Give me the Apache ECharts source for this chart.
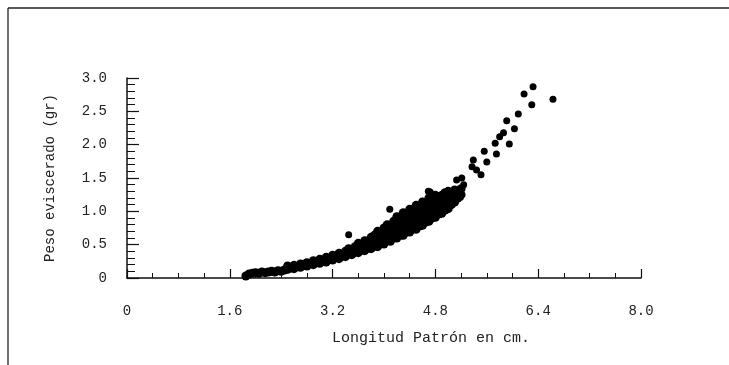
<!DOCTYPE html>
<html>
<head>
<meta charset="utf-8">
<script src="https://cdn.jsdelivr.net/npm/echarts@6/dist/echarts.min.js"></script>
<style>
html,body{margin:0;padding:0;background:#fff;}
#chart{width:729px;height:365px;}
</style>
</head>
<body>
<div id="chart"></div>
<script>
// Tick labels
var xTickLabels = ['0', '1.6', '3.2', '4.8', '6.4', '8.0'];
var yTickLabels = ['0', '0.5', '1.0', '1.5', '2.0', '2.5', '3.0'];
var xTitle = 'Longitud Patrón en cm.';
var yTitle = 'Peso eviscerado (gr)';

// Dense cloud of observations [longitud, peso]
var denseData = [
  [1.85,0.03],[1.90,0.06],[1.95,0.07],[2.00,0.08],[2.05,0.07],[2.10,0.09],[2.15,0.08],[2.20,0.09],[2.25,0.10],[2.30,0.09],[2.35,0.11],[2.40,0.10],[2.45,0.12],
  [2.50,0.13],[2.50,0.18],[2.55,0.15],[2.60,0.14],[2.60,0.19],[2.65,0.17],[2.70,0.16],[2.70,0.21],[2.75,0.19],[2.80,0.18],[2.80,0.23],[2.85,0.21],[2.90,0.20],[2.90,0.26],[2.95,0.23],
  [3.00,0.22],[3.00,0.28],[3.05,0.25],[3.10,0.24],[3.10,0.31],[3.15,0.28],[3.20,0.27],[3.20,0.34],[3.25,0.31],[3.30,0.29],[3.30,0.37],[3.35,0.33],[3.40,0.32],[3.40,0.40],[3.45,0.36],[3.45,0.44],
  [3.50,0.35],[3.50,0.42],[3.55,0.39],[3.55,0.47],[3.60,0.38],[3.60,0.45],[3.60,0.52],[3.65,0.42],[3.65,0.49],[3.70,0.41],[3.70,0.48],[3.70,0.56],[3.75,0.45],[3.75,0.53],
  [3.80,0.44],[3.80,0.52],[3.80,0.61],[3.85,0.48],[3.85,0.57],[3.85,0.64],[3.90,0.47],[3.90,0.55],[3.90,0.63],[3.90,0.70],[3.95,0.52],[3.95,0.60],[3.95,0.68],
  [4.00,0.51],[4.00,0.59],[4.00,0.67],[4.00,0.75],[4.05,0.56],[4.05,0.64],[4.05,0.72],[4.05,0.80],[4.10,0.55],[4.10,0.63],[4.10,0.71],[4.10,0.79],[4.15,0.60],[4.15,0.68],[4.15,0.76],[4.15,0.85],
  [4.20,0.60],[4.20,0.68],[4.20,0.77],[4.20,0.86],[4.20,0.92],[4.25,0.64],[4.25,0.73],[4.25,0.82],[4.25,0.90],[4.30,0.64],[4.30,0.72],[4.30,0.81],[4.30,0.90],[4.30,0.98],
  [4.35,0.69],[4.35,0.78],[4.35,0.87],[4.35,0.96],[4.40,0.69],[4.40,0.77],[4.40,0.86],[4.40,0.95],[4.40,1.03],[4.45,0.74],[4.45,0.83],[4.45,0.92],[4.45,1.01],
  [4.50,0.73],[4.50,0.82],[4.50,0.91],[4.50,1.00],[4.50,1.09],[4.55,0.78],[4.55,0.87],[4.55,0.96],[4.55,1.05],[4.60,0.79],[4.60,0.88],[4.60,0.97],[4.60,1.06],[4.60,1.14],
  [4.65,0.84],[4.65,0.93],[4.65,1.02],[4.65,1.11],[4.70,0.85],[4.70,0.94],[4.70,1.03],[4.70,1.12],[4.70,1.20],[4.75,0.90],[4.75,0.99],[4.75,1.08],[4.75,1.17],
  [4.80,0.91],[4.80,1.00],[4.80,1.09],[4.80,1.18],[4.80,1.24],[4.85,0.96],[4.85,1.05],[4.85,1.14],[4.85,1.22],[4.90,0.97],[4.90,1.06],[4.90,1.15],[4.90,1.24],
  [4.95,1.02],[4.95,1.11],[4.95,1.20],[4.95,1.28],[5.00,1.04],[5.00,1.13],[5.00,1.22],[5.00,1.30],[5.05,1.10],[5.05,1.19],[5.05,1.28],[5.10,1.14],[5.10,1.23],[5.10,1.32],
  [5.15,1.20],[5.15,1.29],[5.20,1.25],[5.20,1.34]
];

// Sparse / isolated observations
var sparseData = [
  [3.45,0.65],[4.09,1.03],[4.69,1.30],[4.72,1.29],
  [5.13,1.47],[5.19,1.21],[5.21,1.50],[5.24,1.40],[5.37,1.67],[5.39,1.77],[5.44,1.62],[5.51,1.55],
  [5.56,1.90],[5.60,1.74],[5.73,2.02],[5.75,1.86],[5.80,2.12],[5.86,2.18],[5.95,2.01],[5.91,2.36],
  [6.03,2.24],[6.09,2.46],[6.18,2.76],[6.30,2.60],[6.32,2.87],[6.63,2.68]
];

var FONT = '"Liberation Mono", "DejaVu Sans Mono", monospace';
var chart = echarts.init(document.getElementById('chart'), null, {renderer: 'canvas'});
chart.setOption({
  backgroundColor: '#ffffff',
  animation: false,
  grid: {left: 127, right: 88, top: 78, bottom: 87, containLabel: false},
  xAxis: {
    type: 'value', min: 0, max: 8, interval: 1.6,
    axisLine: {show: true, onZero: false, lineStyle: {color: '#111', width: 1.5}},
    axisTick: {show: true, inside: true, length: 9, lineStyle: {color: '#111', width: 1.2}},
    minorTick: {show: true, splitNumber: 4, length: 5, lineStyle: {color: '#111', width: 1}},
    splitLine: {show: false},
    axisLabel: {
      margin: 26, color: '#222', fontFamily: FONT, fontSize: 14,
      formatter: function (v, i) { return xTickLabels[i]; }
    }
  },
  yAxis: {
    type: 'value', min: 0, max: 3, interval: 0.5,
    name: yTitle, nameLocation: 'middle', nameGap: 70,
    nameTextStyle: {color: '#222', fontFamily: FONT, fontSize: 14},
    axisLine: {show: true, lineStyle: {color: '#111', width: 1.5}},
    axisTick: {show: true, inside: true, length: 12, lineStyle: {color: '#111', width: 1.2}},
    minorTick: {show: true, splitNumber: 5, length: 8, lineStyle: {color: '#111', width: 1}},
    splitLine: {show: false},
    axisLabel: {
      margin: 20, color: '#222', fontFamily: FONT, fontSize: 14,
      formatter: function (v, i) { return yTickLabels[i]; }
    }
  },
  graphic: [
    {type: 'line', shape: {x1: 8, y1: 8, x2: 729, y2: 8}, style: {stroke: '#222', lineWidth: 1.3}},
    {type: 'line', shape: {x1: 8, y1: 8, x2: 8, y2: 365}, style: {stroke: '#222', lineWidth: 1.3}},
    {type: 'text', left: 332, top: 331, style: {text: xTitle, fill: '#222', font: '15px ' + FONT}}
  ],
  series: [
    {
      type: 'scatter', data: denseData, symbol: 'circle', symbolSize: 9,
      itemStyle: {color: '#000', opacity: 1}, silent: true
    },
    {
      type: 'scatter', data: sparseData, symbol: 'circle', symbolSize: 7,
      itemStyle: {color: '#000', opacity: 1}, silent: true
    }
  ]
});
</script>
</body>
</html>
